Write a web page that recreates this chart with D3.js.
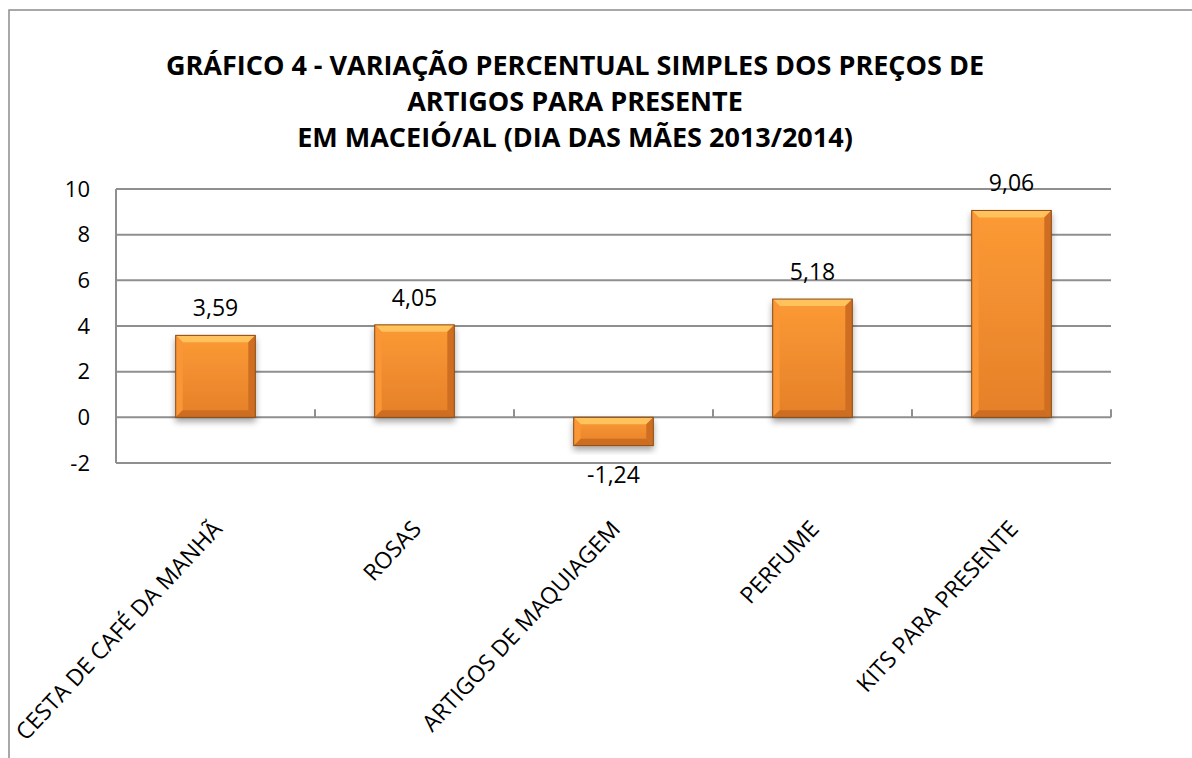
<!DOCTYPE html>
<html>
<head>
<meta charset="utf-8">
<script src="https://cdn.jsdelivr.net/npm/d3@7"></script>
<style>
  html, body { margin: 0; padding: 0; background: #fff; }
  svg { display: block; font-family: 'Open Sans', sans-serif; }
</style>
</head>
<body>
<svg id="chart" width="1192" height="758"></svg>
<script>
const titleLines = [
  'GRÁFICO 4 - VARIAÇÃO PERCENTUAL SIMPLES DOS PREÇOS DE',
  'ARTIGOS PARA PRESENTE',
  'EM MACEIÓ/AL (DIA DAS MÃES 2013/2014)'
]
const categories = ['CESTA DE CAFÉ DA MANHÃ', 'ROSAS', 'ARTIGOS DE MAQUIAGEM', 'PERFUME', 'KITS PARA PRESENTE']
const values = [3.59, 4.05, -1.24, 5.18, 9.06]
const yTicks = [-2, 0, 2, 4, 6, 8, 10]

const svg = d3.select('#chart')
const plot = { left: 116, right: 1111, top: 189, bottom: 463 }
const gridColor = '#8f8f8f'

const ptBR = d3.formatLocale({ decimal: ',', thousands: '.', grouping: [3], currency: ['R$', ''], minus: '-' })
const fmt = ptBR.format('.2f')

const x = d3.scaleBand()
  .domain(categories)
  .range([plot.left, plot.right])
  .paddingInner(0.6)
  .paddingOuter(0.3)

const y = d3.scaleLinear()
  .domain([d3.min(yTicks), d3.max(yTicks)])
  .range([plot.bottom, plot.top])

// outer chart border (right and bottom edges are cut off in the original)
svg.append('rect')
  .attr('x', 9).attr('y', 10)
  .attr('width', 1300).attr('height', 900)
  .style('fill', 'none')
  .style('stroke', '#8c8c8c')
  .style('stroke-width', 1.5)

// title
svg.append('text')
  .attr('text-anchor', 'middle')
  .style('font-weight', 'bold')
  .style('font-size', '27px')
  .style('fill', '#000')
  .selectAll('tspan')
  .data(titleLines)
  .join('tspan')
  .attr('x', 575)
  .attr('y', (d, i) => 75 + i * 36)
  .text(d => d)

// defs: gradients + shadow
const defs = svg.append('defs')
const shadow = defs.append('filter').attr('id', 'barShadow')
  .attr('x', '-20%').attr('y', '-20%').attr('width', '140%').attr('height', '150%')
shadow.append('feDropShadow')
  .attr('dx', 0).attr('dy', 4).attr('stdDeviation', 3)
  .attr('flood-color', '#000').attr('flood-opacity', 0.35)

const bodyGrad = defs.append('linearGradient').attr('id', 'barBody')
  .attr('x1', 0).attr('y1', 0).attr('x2', 0).attr('y2', 1)
bodyGrad.append('stop').attr('offset', '0%').attr('stop-color', '#FC9A35')
bodyGrad.append('stop').attr('offset', '100%').attr('stop-color', '#E58029')

// horizontal gridlines
svg.append('g')
  .selectAll('line')
  .data(yTicks)
  .join('line')
  .attr('x1', plot.left).attr('x2', plot.right)
  .attr('y1', d => y(d)).attr('y2', d => y(d))
  .style('stroke', gridColor)
  .style('stroke-width', 2)

// vertical axis line
svg.append('line')
  .attr('x1', plot.left).attr('x2', plot.left)
  .attr('y1', plot.top).attr('y2', plot.bottom)
  .style('stroke', gridColor)
  .style('stroke-width', 2)

// y tick labels
svg.append('g')
  .selectAll('text')
  .data(yTicks)
  .join('text')
  .attr('x', 90)
  .attr('y', d => y(d))
  .attr('dy', '0.35em')
  .attr('text-anchor', 'end')
  .style('font-size', '22px')
  .style('fill', '#000')
  .text(d => d)

// category tick marks on the zero line
const boundaries = [plot.left].concat(categories.map(c => x(c) + x.bandwidth() + x.step() * x.paddingInner() / 2))
boundaries[boundaries.length - 1] = plot.right
svg.append('g')
  .selectAll('line')
  .data(boundaries)
  .join('line')
  .attr('x1', d => d).attr('x2', d => d)
  .attr('y1', y(0)).attr('y2', y(0) - 8)
  .style('stroke', gridColor)
  .style('stroke-width', 2)

// bars with bevel effect
const bevel = 7
const bars = svg.append('g')
  .selectAll('g')
  .data(values.map((v, i) => ({ v, c: categories[i] })))
  .join('g')
  .attr('filter', 'url(#barShadow)')

bars.each(function (d) {
  const g = d3.select(this)
  const x0 = x(d.c)
  const w = x.bandwidth()
  const y0 = Math.min(y(d.v), y(0))
  const h = Math.abs(y(d.v) - y(0))
  const x1 = x0 + w
  const y1 = y0 + h
  const b = Math.min(bevel, h / 2)

  g.append('rect')
    .attr('x', x0).attr('y', y0)
    .attr('width', w).attr('height', h)
    .style('fill', 'url(#barBody)')

  // top bevel
  g.append('path')
    .attr('d', `M${x0},${y0}L${x1},${y0}L${x1 - b},${y0 + b}L${x0 + b},${y0 + b}Z`)
    .style('fill', '#FFC25C')
  // left bevel
  g.append('path')
    .attr('d', `M${x0},${y0}L${x0 + b},${y0 + b}L${x0 + b},${y1 - b}L${x0},${y1}Z`)
    .style('fill', '#FA9636')
  // right bevel
  g.append('path')
    .attr('d', `M${x1},${y0}L${x1},${y1}L${x1 - b},${y1 - b}L${x1 - b},${y0 + b}Z`)
    .style('fill', '#CF6E20')
  // bottom bevel
  g.append('path')
    .attr('d', `M${x0},${y1}L${x1},${y1}L${x1 - b},${y1 - b}L${x0 + b},${y1 - b}Z`)
    .style('fill', '#CC6D20')

  g.append('rect')
    .attr('x', x0).attr('y', y0)
    .attr('width', w).attr('height', h)
    .style('fill', 'none')
    .style('stroke', '#8A4A12')
    .style('stroke-width', 1)
})

// data labels
svg.append('g')
  .selectAll('text')
  .data(values.map((v, i) => ({ v, c: categories[i] })))
  .join('text')
  .attr('x', d => x(d.c) + x.bandwidth() / 2)
  .attr('y', d => d.v >= 0 ? y(d.v) - 19 : y(d.v) + 37)
  .attr('text-anchor', 'middle')
  .style('font-size', '23px')
  .style('fill', '#000')
  .text(d => fmt(d.v))

// rotated category labels
svg.append('g')
  .selectAll('text')
  .data(categories)
  .join('text')
  .attr('text-anchor', 'end')
  .attr('transform', d => `translate(${x(d) + x.bandwidth() / 2 + 8},530) rotate(-47)`)
  .style('font-size', '23px')
  .style('fill', '#000')
  .text(d => d)
</script>
</body>
</html>
